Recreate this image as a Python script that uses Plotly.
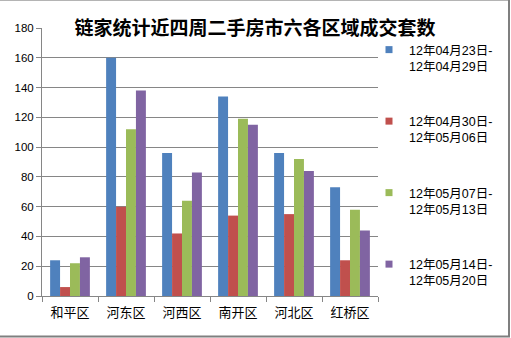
import plotly.graph_objects as go

# Weekly second-hand housing transactions per district
districts = ["和平区", "河东区", "河西区", "南开区", "河北区", "红桥区"]
week_labels = [
    "12年04月23日-<br>12年04月29日",
    "12年04月30日-<br>12年05月06日",
    "12年05月07日-<br>12年05月13日",
    "12年05月14日-<br>12年05月20日",
]
week1 = [24, 160, 96, 134, 96, 73]
week2 = [6, 60, 42, 54, 55, 24]
week3 = [22, 112, 64, 119, 92, 58]
week4 = [26, 138, 83, 115, 84, 44]
series = [week1, week2, week3, week4]
colors = ["#4F81BD", "#C0504D", "#9BBB59", "#8064A2"]

y_ticks = [0, 20, 40, 60, 80, 100, 120, 140, 160, 180]

W, H = 511, 338
ML, MR, MT, MB = 42, 133, 28, 42
PW, PH = W - ML - MR, H - MT - MB

fig = go.Figure()
for i, (vals, name, col) in enumerate(zip(series, week_labels, colors)):
    fig.add_trace(go.Bar(
        x=districts, y=vals, name=name, marker_color=col,
        marker_line_width=0, showlegend=False,
    ))
    # small square key for the legend
    fig.add_trace(go.Scatter(
        x=[None], y=[None], mode="markers", name=name,
        marker=dict(symbol="square", size=7, color=col),
        legendgroup=f"g{i}", showlegend=True, hoverinfo="skip",
    ))


def px_x(p):
    return (p - ML) / PW


def px_y(p):
    return (H - MB - p) / PH


frame_lines = [
    # top edge (light), right and bottom edges (darker)
    (0, 0.5, 510, 0.5, "#B4B4B4", 1),
    (509, 0, 509, 337, "#7F7F7F", 2),
    (0, 336.5, 510, 336.5, "#7F7F7F", 2),
]

fig.update_layout(
    width=W, height=H,
    margin=dict(l=ML, r=MR, t=MT, b=MB),
    paper_bgcolor="white", plot_bgcolor="white",
    barmode="group", bargap=0.29, bargroupgap=0,
    font=dict(family="Liberation Sans, Noto Sans CJK SC, sans-serif", size=12, color="#000000"),
    title=dict(
        text="<b>链家统计近四周二手房市六各区域成交套数</b>",
        x=255 / W, xanchor="center", y=1 - 28 / H, yanchor="middle",
        font=dict(family="Noto Sans CJK SC, sans-serif", size=19, color="#000000"),
    ),
    legend=dict(
        x=px_x(369), y=px_y(35), xanchor="left", yanchor="top",
        traceorder="grouped", tracegroupgap=36, valign="top",
        font=dict(family="Liberation Sans, Noto Sans CJK SC, sans-serif", size=12.5),
        itemwidth=30, bgcolor="rgba(0,0,0,0)", maxheight=338,
    ),
    showlegend=True,
    xaxis=dict(
        showline=True, linecolor="#868686", linewidth=1,
        ticks="outside", tickson="boundaries", ticklen=5, tickcolor="#868686",
        tickfont=dict(family="Noto Sans CJK SC, sans-serif", size=13),
        ticklabelstandoff=4,
        showgrid=False, fixedrange=True,
    ),
    yaxis=dict(
        range=[0, 180], tickvals=y_ticks,
        showline=True, linecolor="#868686", linewidth=1,
        ticks="outside", ticklen=5, tickcolor="#868686",
        showgrid=True, gridcolor="#868686", gridwidth=1,
        zeroline=False, tickfont=dict(size=11.5),
        fixedrange=True,
    ),
    shapes=[
        dict(type="line", xref="paper", yref="paper",
             x0=px_x(a), y0=px_y(b), x1=px_x(c), y1=px_y(d),
             line=dict(color=col, width=w), layer="above")
        for a, b, c, d, col, w in frame_lines
    ],
)

fig.write_html("out.html")
